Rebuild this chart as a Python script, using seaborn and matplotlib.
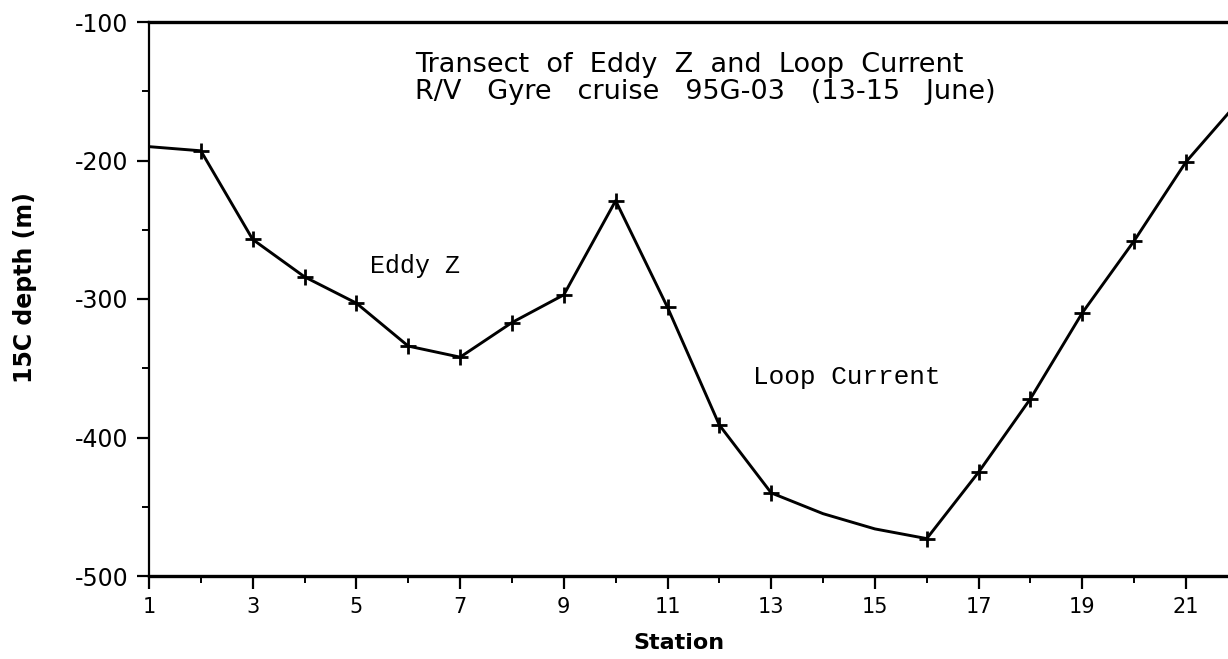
import pandas as pd
import seaborn as sns
import matplotlib.pyplot as plt
from matplotlib.ticker import MultipleLocator

# Station data
stations = list(range(1, 23))
depth = [-190, -193, -257, -284, -303, -334, -342, -317, -297, -229, -306,
         -391, -440, -455, -466, -473, -425, -372, -310, -258, -201, -158]
# stations with a cast marker
marked = [2, 3, 4, 5, 6, 7, 8, 9, 10, 11, 12, 13, 16, 17, 18, 19, 20, 21]
xtick_labels = list(range(1, 22, 2))

title_lines = ["Transect  of  Eddy  Z  and  Loop  Current",
               "R/V   Gyre   cruise   95G-03   (13-15   June)"]

df = pd.DataFrame({"station": stations, "depth": depth})
pts = df[df["station"].isin(marked)]

sns.set_style("ticks")
plt.rcParams["font.family"] = ["DejaVu Sans"]
plt.rcParams["axes.unicode_minus"] = False
plt.rcParams["text.color"] = "black"
plt.rcParams["axes.labelcolor"] = "black"
plt.rcParams["xtick.color"] = "black"
plt.rcParams["ytick.color"] = "black"

fig = plt.figure(figsize=(12.28, 6.59), dpi=100)
ax = fig.add_axes([149 / 1228, 1 - 576 / 659, 1 - 149 / 1228, (576 - 22) / 659])

sns.lineplot(data=df, x="station", y="depth", color="black", linewidth=2.1, ax=ax)
sns.scatterplot(data=pts, x="station", y="depth", marker="+", s=120,
                color="black", linewidth=2, ax=ax, zorder=3)

ax.set_xlim(1, 21.81)
ax.set_ylim(-500, -100)
ax.set_xticks(xtick_labels)
ax.set_xticklabels([str(v) for v in xtick_labels])
ax.xaxis.set_minor_locator(MultipleLocator(1))
ax.yaxis.set_major_locator(MultipleLocator(100))
ax.yaxis.set_minor_locator(MultipleLocator(50))
ax.tick_params(axis="both", which="major", direction="out", length=9, width=1.6,
               color="black")
ax.tick_params(axis="both", which="minor", direction="out", length=5, width=1.4,
               color="black")
ax.tick_params(axis="x", labelsize=15, pad=6)
ax.tick_params(axis="y", labelsize=17, pad=6)

for side in ["top", "bottom"]:
    ax.spines[side].set_linewidth(2.4)
ax.spines["left"].set_linewidth(1.6)
ax.spines["right"].set_visible(False)
for side in ax.spines:
    ax.spines[side].set_color("black")

ax.set_xlabel("Station", fontsize=16, fontweight="bold")
ax.set_ylabel("15C depth (m)", fontsize=17, fontweight="bold")
ax.xaxis.set_label_coords(0.491, -0.102)
ax.yaxis.set_label_coords(-0.104, 0.52)

ax.text(0.2465, 0.9097, title_lines[0], transform=ax.transAxes, fontsize=19.5)
ax.text(0.2465, 0.8616, title_lines[1], transform=ax.transAxes, fontsize=19.5)
ax.text(0.2045, 0.547, "Eddy Z", transform=ax.transAxes, fontsize=18,
        family="Liberation Mono")
ax.text(0.5595, 0.3466, "Loop Current", transform=ax.transAxes, fontsize=18.8,
        family="Liberation Mono")

fig.savefig("out.png", dpi=100)
